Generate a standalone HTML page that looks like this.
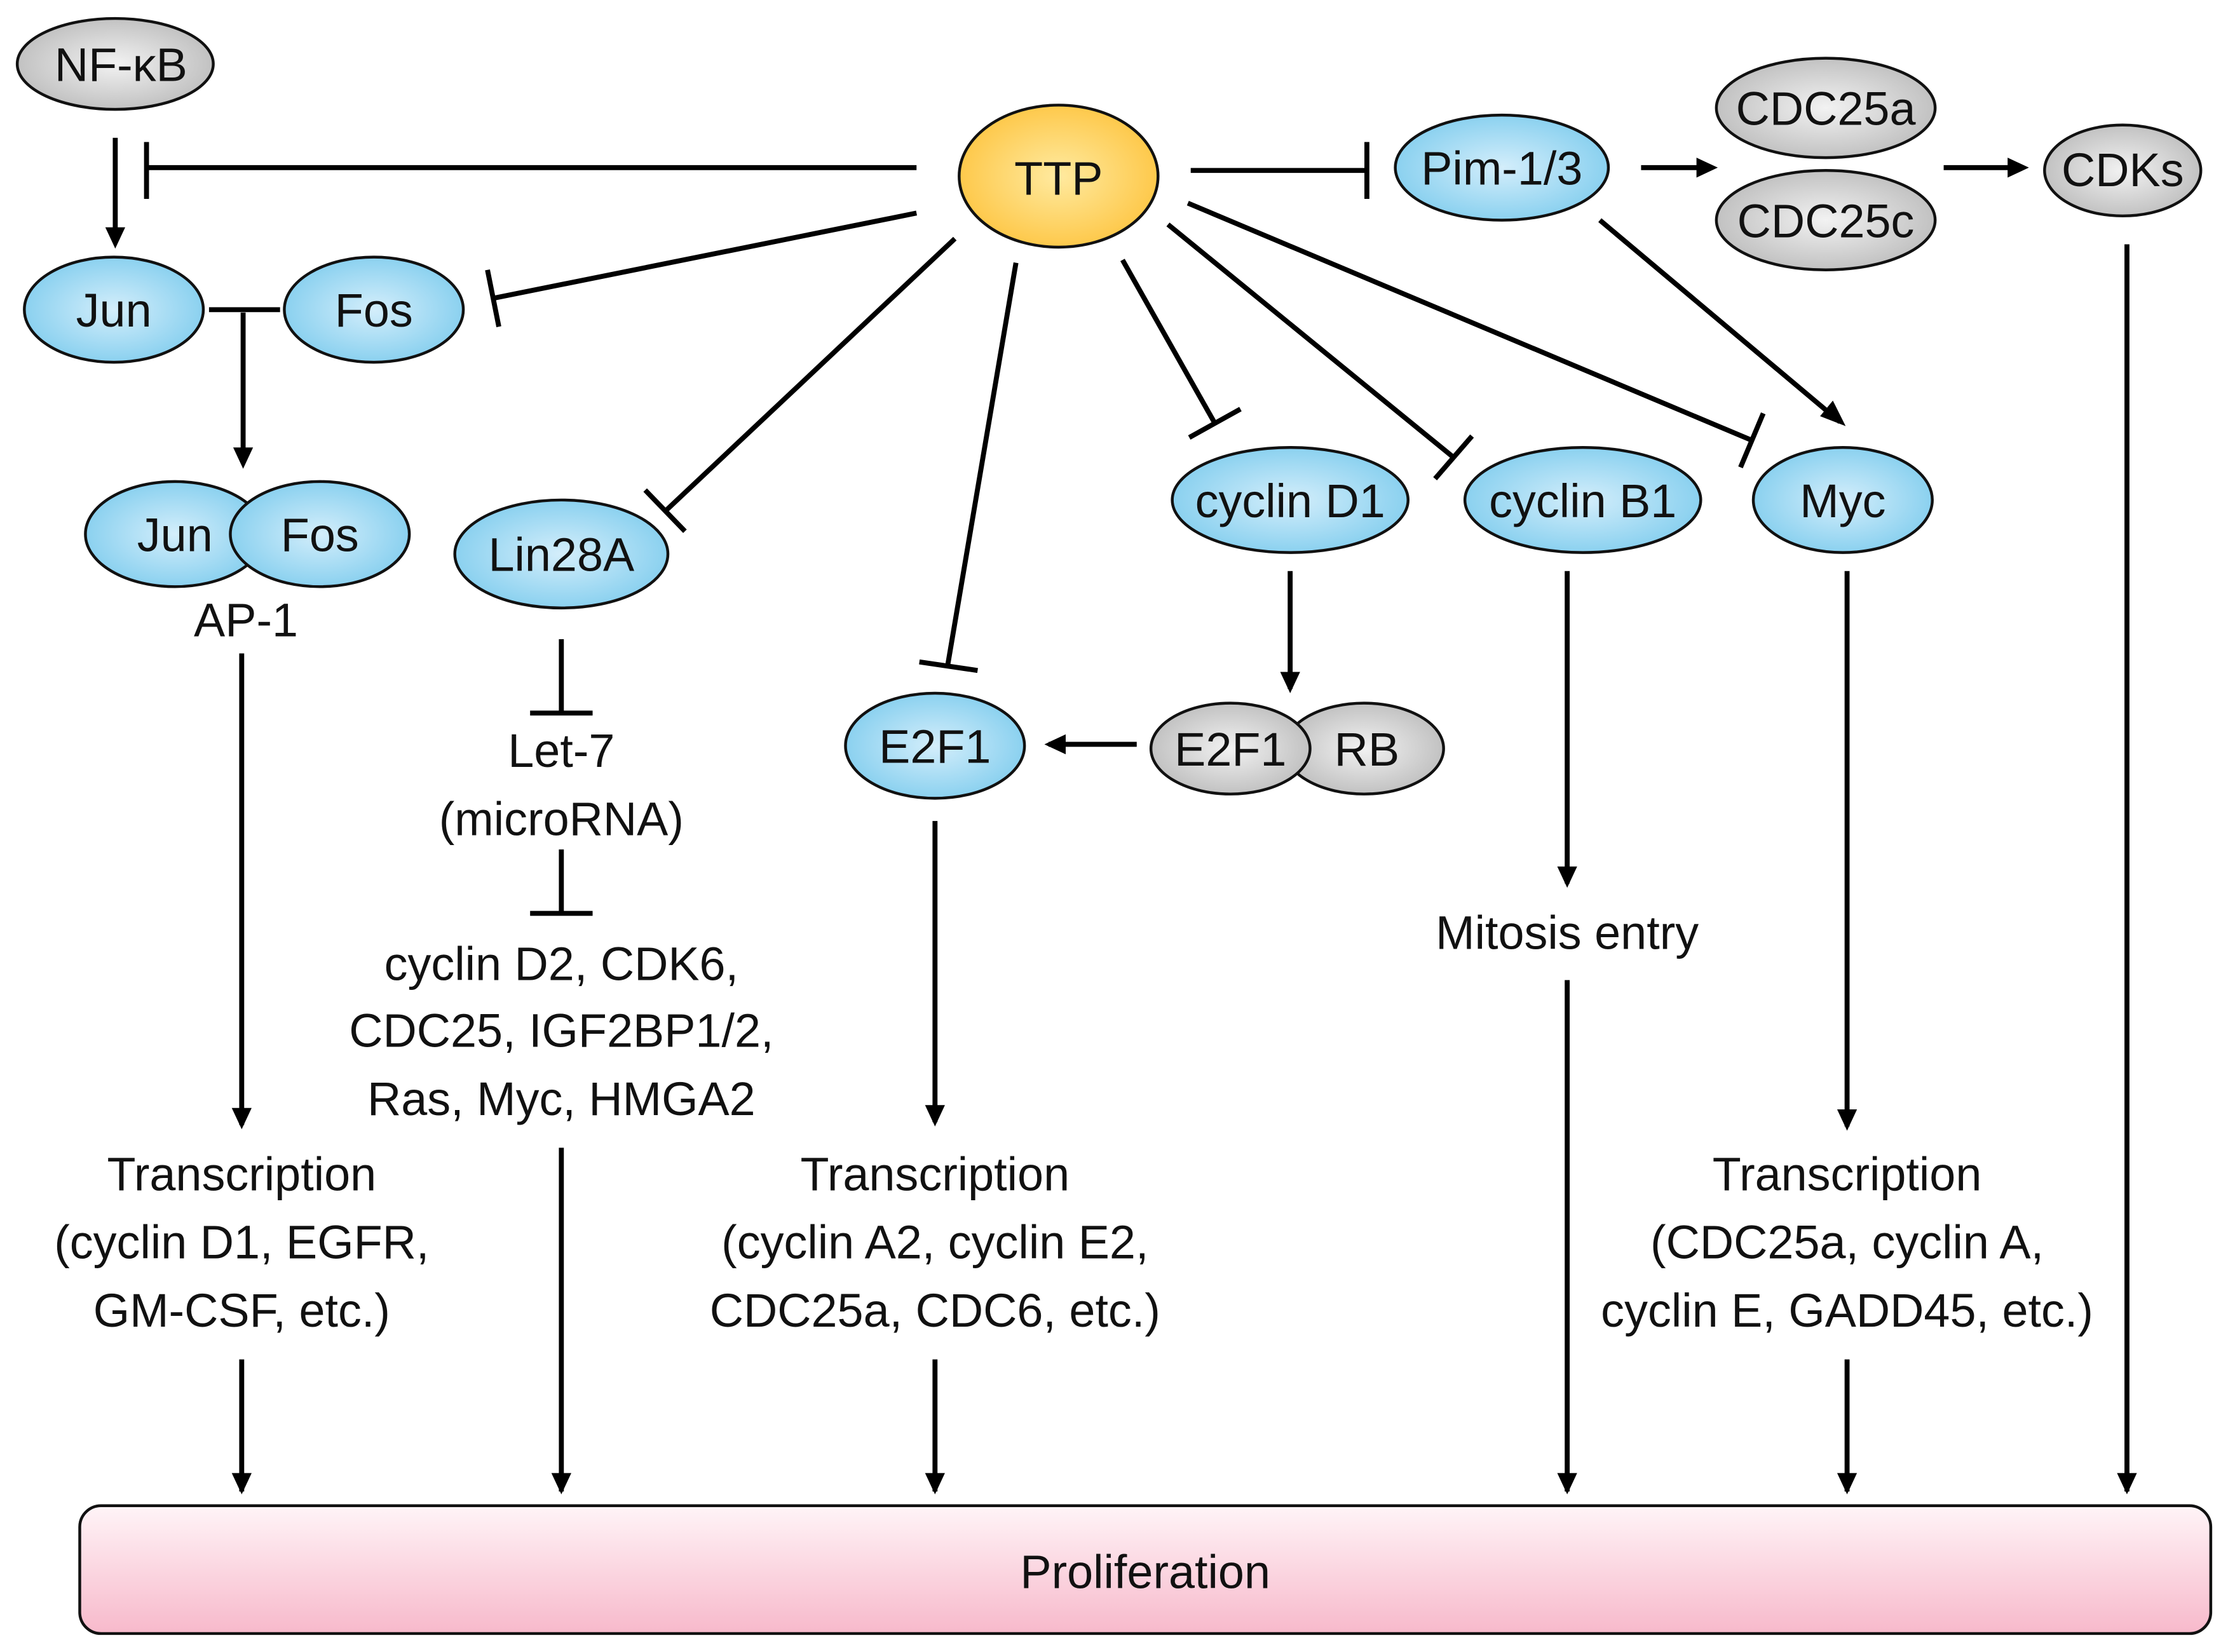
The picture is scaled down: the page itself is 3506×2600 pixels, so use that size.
<!DOCTYPE html>
<html><head><meta charset="utf-8"><style>
html,body{margin:0;padding:0;background:#fff;}
svg{display:block;}
text{font-family:"Liberation Sans",sans-serif;fill:#111;text-anchor:middle;}
</style></head><body>
<svg width="3506" height="2600" viewBox="0 0 1568 1163" xmlns="http://www.w3.org/2000/svg">
<defs>
<radialGradient id="blue" cx="50%" cy="50%" r="60%"><stop offset="0" stop-color="#d4eefb"/><stop offset="1" stop-color="#7ccbed"/></radialGradient>
<radialGradient id="gray" cx="50%" cy="50%" r="60%"><stop offset="0" stop-color="#f2f2f2"/><stop offset="1" stop-color="#b8b8b8"/></radialGradient>
<radialGradient id="yel" cx="50%" cy="50%" r="60%"><stop offset="0" stop-color="#ffeaa0"/><stop offset="1" stop-color="#fdc23a"/></radialGradient>
<linearGradient id="pink" x1="0" y1="0" x2="0" y2="1"><stop offset="0" stop-color="#fff4f7"/><stop offset="1" stop-color="#f7b9cb"/></linearGradient>
</defs>
<g stroke="#000" stroke-width="3.5" fill="none">
<line x1="81" y1="97" x2="81" y2="170"/>
<line x1="171" y1="220" x2="171" y2="325"/>
<line x1="170" y1="460" x2="170" y2="792"/>
<line x1="170" y1="957" x2="170" y2="1050"/>
<line x1="395" y1="808" x2="395" y2="1050"/>
<line x1="658" y1="578" x2="658" y2="790"/>
<line x1="658" y1="957" x2="658" y2="1050"/>
<line x1="908" y1="402" x2="908" y2="485"/>
<line x1="800" y1="524" x2="738" y2="524"/>
<line x1="1103" y1="402" x2="1103" y2="622"/>
<line x1="1103" y1="690" x2="1103" y2="1050"/>
<line x1="1300" y1="402" x2="1300" y2="793"/>
<line x1="1300" y1="957" x2="1300" y2="1050"/>
<line x1="1126" y1="155" x2="1295" y2="297"/>
<line x1="1155" y1="118" x2="1205" y2="118"/>
<line x1="1368" y1="118" x2="1424" y2="118"/>
<line x1="1497" y1="172" x2="1497" y2="1050"/>
<g fill="#000" stroke="none">
<path d="M74,160 L88,160 L81,175z"/>
<path d="M164,315 L178,315 L171,330z"/>
<path d="M163,780 L177,780 L170,795z"/>
<path d="M163,1037 L177,1037 L170,1052z"/>
<path d="M388,1037 L402,1037 L395,1052z"/>
<path d="M651,778 L665,778 L658,793z"/>
<path d="M651,1037 L665,1037 L658,1052z"/>
<path d="M901,473 L915,473 L908,488z"/>
<path d="M750,517 L750,531 L735,524z"/>
<path d="M1096,610 L1110,610 L1103,625z"/>
<path d="M1096,1037 L1110,1037 L1103,1052z"/>
<path d="M1293,781 L1307,781 L1300,796z"/>
<path d="M1293,1037 L1307,1037 L1300,1052z"/>
<path d="M1281,293 L1290,282 L1299,300z"/>
<path d="M1194,111 L1194,125 L1209,118z"/>
<path d="M1413,111 L1413,125 L1428,118z"/>
<path d="M1490,1037 L1504,1037 L1497,1052z"/>
</g>
<line x1="645" y1="118" x2="103" y2="118"/><line x1="103" y1="100" x2="103" y2="140"/>
<line x1="147" y1="218" x2="197" y2="218"/>
<line x1="645" y1="150" x2="347" y2="210"/><line x1="343" y1="190" x2="351" y2="230"/>
<line x1="672" y1="168" x2="468" y2="360"/><line x1="454" y1="345" x2="482" y2="374"/>
<line x1="395" y1="450" x2="395" y2="502"/><line x1="373" y1="502" x2="417" y2="502"/>
<line x1="395" y1="598" x2="395" y2="643"/><line x1="373" y1="643" x2="417" y2="643"/>
<line x1="715" y1="185" x2="667" y2="468"/><line x1="647" y1="466" x2="688" y2="472"/>
<line x1="790" y1="183" x2="855" y2="298"/><line x1="837" y1="308" x2="873" y2="288"/>
<line x1="822" y1="158" x2="1023" y2="322"/><line x1="1010" y1="337" x2="1036" y2="307"/>
<line x1="836" y1="143" x2="1233" y2="310"/><line x1="1225" y1="329" x2="1241" y2="291"/>
<line x1="838" y1="120" x2="962" y2="120"/><line x1="962" y1="100" x2="962" y2="140"/>
</g>
<g stroke="#111" stroke-width="2">
<ellipse cx="81" cy="45" rx="69" ry="32" fill="url(#gray)"/>
<ellipse cx="745" cy="124" rx="70" ry="50" fill="url(#yel)"/>
<ellipse cx="80" cy="218" rx="63" ry="37" fill="url(#blue)"/>
<ellipse cx="263" cy="218" rx="63" ry="37" fill="url(#blue)"/>
<ellipse cx="123" cy="376" rx="63" ry="37" fill="url(#blue)"/>
<ellipse cx="225" cy="376" rx="63" ry="37" fill="url(#blue)"/>
<ellipse cx="395" cy="390" rx="75" ry="38" fill="url(#blue)"/>
<ellipse cx="658" cy="525" rx="63" ry="37" fill="url(#blue)"/>
<ellipse cx="908" cy="352" rx="83" ry="37" fill="url(#blue)"/>
<ellipse cx="1114" cy="352" rx="83" ry="37" fill="url(#blue)"/>
<ellipse cx="1297" cy="352" rx="63" ry="37" fill="url(#blue)"/>
<ellipse cx="960" cy="527" rx="56" ry="32" fill="url(#gray)"/>
<ellipse cx="866" cy="527" rx="56" ry="32" fill="url(#gray)"/>
<ellipse cx="1057" cy="118" rx="75" ry="37" fill="url(#blue)"/>
<ellipse cx="1285" cy="76" rx="77" ry="35" fill="url(#gray)"/>
<ellipse cx="1285" cy="155" rx="77" ry="35" fill="url(#gray)"/>
<ellipse cx="1494" cy="120" rx="55" ry="32" fill="url(#gray)"/>
<rect x="56" y="1060" width="1500" height="90" rx="15" fill="url(#pink)"/>
</g>
<g font-size="33">
<text x="85" y="57">NF-κB</text>
<text x="745" y="137">TTP</text>
<text x="80" y="230">Jun</text>
<text x="263" y="230">Fos</text>
<text x="123" y="388">Jun</text>
<text x="225" y="388">Fos</text>
<text x="173" y="448">AP-1</text>
<text x="395" y="402">Lin28A</text>
<text x="395" y="540">Let-7</text>
<text x="395" y="588">(microRNA)</text>
<text x="395" y="690">cyclin D2, CDK6,</text>
<text x="395" y="737">CDC25, IGF2BP1/2,</text>
<text x="395" y="785">Ras, Myc, HMGA2</text>
<text x="170" y="838">Transcription</text>
<text x="170" y="886">(cyclin D1, EGFR,</text>
<text x="170" y="934">GM-CSF, etc.)</text>
<text x="658" y="537">E2F1</text>
<text x="658" y="838">Transcription</text>
<text x="658" y="886">(cyclin A2, cyclin E2,</text>
<text x="658" y="934">CDC25a, CDC6, etc.)</text>
<text x="908" y="364">cyclin D1</text>
<text x="1114" y="364">cyclin B1</text>
<text x="1297" y="364">Myc</text>
<text x="866" y="539">E2F1</text>
<text x="962" y="539">RB</text>
<text x="1103" y="668">Mitosis entry</text>
<text x="1300" y="838">Transcription</text>
<text x="1300" y="886">(CDC25a, cyclin A,</text>
<text x="1300" y="934">cyclin E, GADD45, etc.)</text>
<text x="1057" y="130">Pim-1/3</text>
<text x="1285" y="88">CDC25a</text>
<text x="1285" y="167">CDC25c</text>
<text x="1494" y="131">CDKs</text>
<text x="806" y="1118">Proliferation</text>
</g>
</svg>
</body></html>
